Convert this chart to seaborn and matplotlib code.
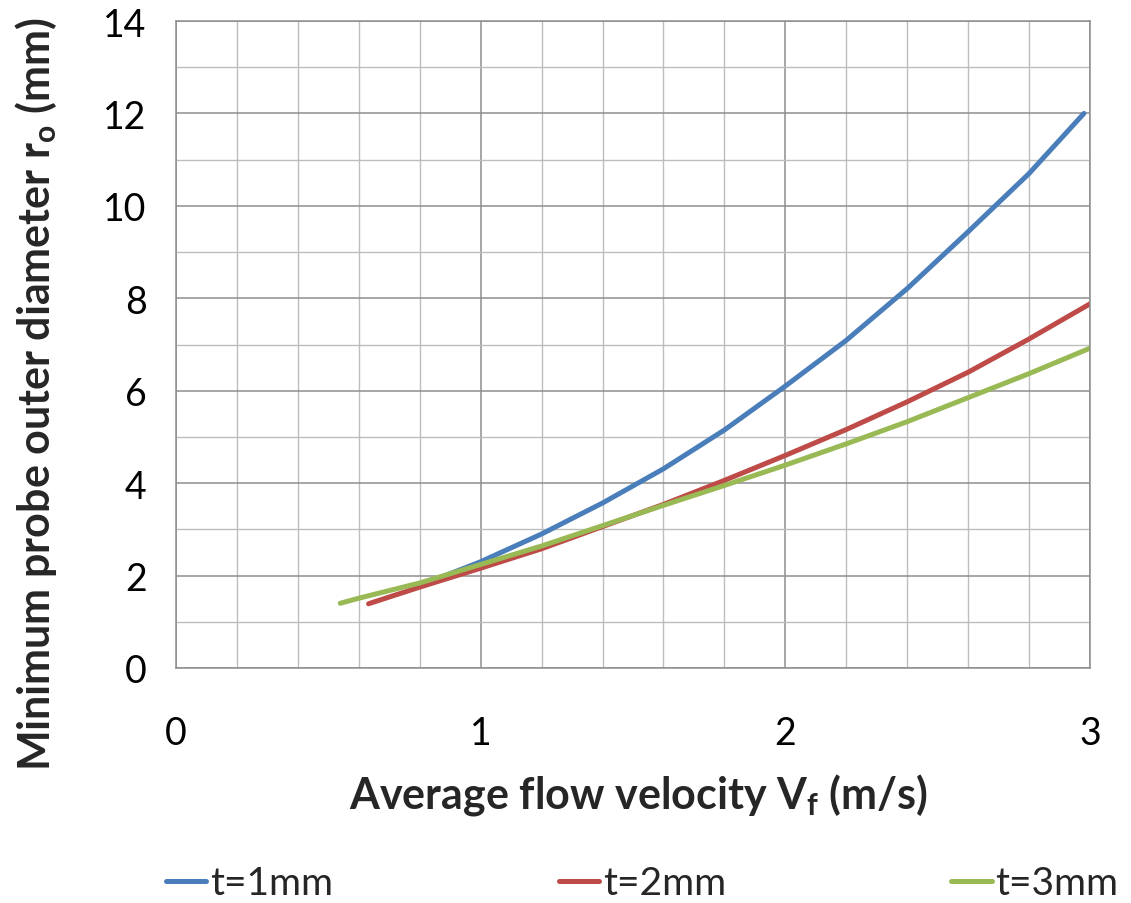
import pandas as pd
import matplotlib
matplotlib.use('Agg')
import matplotlib.pyplot as plt
import seaborn as sns
from matplotlib.ticker import MultipleLocator

# values
v_t1 = [0.88, 1.00, 1.20, 1.40, 1.60, 1.80, 2.00, 2.20, 2.40, 2.60, 2.80, 2.98]
r_t1 = [1.99, 2.30, 2.90, 3.57, 4.31, 5.15, 6.10, 7.09, 8.21, 9.44, 10.70, 12.00]

v_t2 = [0.632, 0.80, 1.00, 1.20, 1.40, 1.60, 1.80, 2.00, 2.20, 2.40, 2.60, 2.80, 3.00]
r_t2 = [1.39, 1.75, 2.16, 2.58, 3.06, 3.54, 4.06, 4.60, 5.16, 5.76, 6.40, 7.12, 7.88]

v_t3 = [0.539, 0.60, 0.80, 1.00, 1.20, 1.40, 1.60, 1.80, 2.00, 2.20, 2.40, 2.60, 2.80, 3.00]
r_t3 = [1.40, 1.51, 1.84, 2.24, 2.64, 3.08, 3.52, 3.95, 4.39, 4.85, 5.33, 5.85, 6.37, 6.92]

labels = ['t=1mm', 't=2mm', 't=3mm']
colors = ['#4a7ebb', '#be4b48', '#98b954']

frames = []
for lab, v, r in zip(labels, [v_t1, v_t2, v_t3], [r_t1, r_t2, r_t3]):
    frames.append(pd.DataFrame({'v': v, 'r': r, 'series': lab}))
df = pd.concat(frames, ignore_index=True)

sns.set_style('white')
plt.rcParams['font.family'] = ['Lato', 'DejaVu Sans']
plt.rcParams['mathtext.fontset'] = 'custom'
plt.rcParams['mathtext.rm'] = 'Lato'
plt.rcParams['mathtext.bf'] = 'Lato:bold'

fig = plt.figure(figsize=(11.31, 9.04), dpi=100)
ax = fig.add_axes([176 / 1131, 1 - 669 / 904, (1090 - 176) / 1131, (669 - 22) / 904])

sns.lineplot(data=df, x='v', y='r', hue='series', palette=colors, sort=False,
             estimator=None, linewidth=3.6, ax=ax, legend=True)

ax.set_xlim(0, 3)
ax.set_ylim(0, 14)
ax.xaxis.set_major_locator(MultipleLocator(1))
ax.xaxis.set_minor_locator(MultipleLocator(0.2))
ax.yaxis.set_major_locator(MultipleLocator(2))
ax.yaxis.set_minor_locator(MultipleLocator(1))
ax.grid(which='major', color='#8e8e8e', linewidth=1.1)
ax.grid(which='minor', color='#bdbdbd', linewidth=1.0)
ax.set_axisbelow(True)
for s in ax.spines.values():
    s.set_color('#8e8e8e')
    s.set_linewidth(1.1)
ax.tick_params(which='both', length=0, labelsize=27, colors='black')
ax.tick_params(axis='x', pad=34)
ax.tick_params(axis='y', pad=21)

ax.set_xlabel(r'Average flow velocity V$_\mathbf{f}$ (m/s)', fontsize=31,
              fontweight='bold', va='center')
ax.xaxis.set_label_coords((638 - 176) / 914, -(795 - 669) / 647)
ax.set_ylabel(r'Minimum probe outer diameter r$_\mathbf{o}$ (mm)', fontsize=31,
              fontweight='bold', va='center')
ax.yaxis.set_label_coords(-(176 - 36) / 914, (669 - 394) / 647)

handles, labs = ax.get_legend_handles_labels()
ax.get_legend().remove()
fig.legend(handles, labs, loc='center', bbox_to_anchor=(0.568, 0.022), ncol=3,
           frameon=False, fontsize=28, handlelength=1.03, handletextpad=0.1,
           columnspacing=5.8)

fig.savefig('out.png', dpi=100, facecolor='white')
